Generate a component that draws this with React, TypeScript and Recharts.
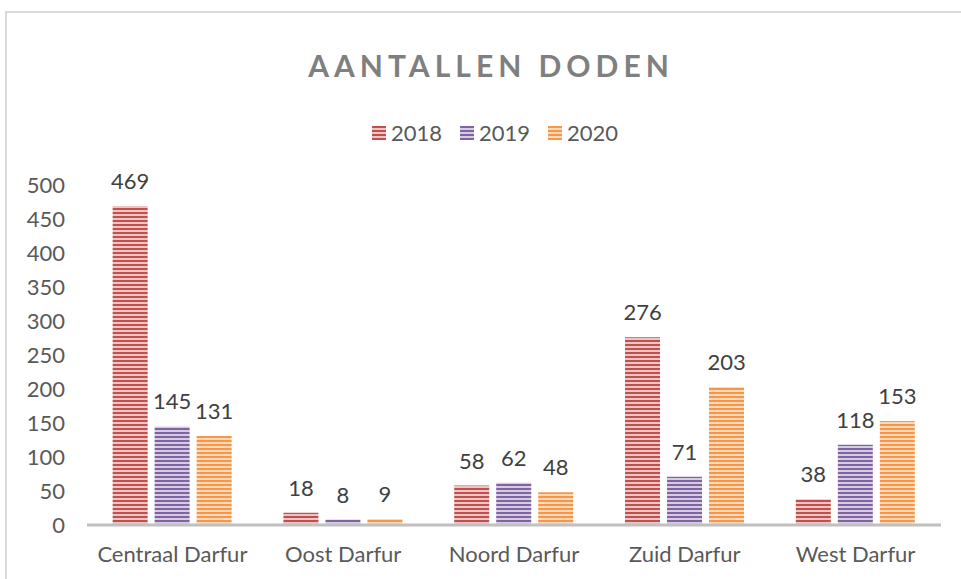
import { BarChart, Bar, XAxis, YAxis, LabelList } from 'recharts';

const regions = ['Centraal Darfur', 'Oost Darfur', 'Noord Darfur', 'Zuid Darfur', 'West Darfur'];
const deaths2018 = [469, 18, 58, 276, 38];
const deaths2019 = [145, 8, 62, 71, 118];
const deaths2020 = [131, 9, 48, 203, 153];
const yTicks = [0, 50, 100, 150, 200, 250, 300, 350, 400, 450, 500];

const series = [
  { key: 'y2018', name: '2018', dark: '#C0504D', light: '#EBC4C3' },
  { key: 'y2019', name: '2019', dark: '#8064A2', light: '#D5CBE2' },
  { key: 'y2020', name: '2020', dark: '#F79646', light: '#FDD9BC' },
];

const data = regions.map((region, i) => ({
  region,
  y2018: deaths2018[i],
  y2019: deaths2019[i],
  y2020: deaths2020[i],
}));

const font = 'Lato, Carlito, Calibri, sans-serif';

export default function App() {
  return (
    <div style={{ position: 'fixed', left: 0, top: 0, width: 961, height: 579, overflow: 'hidden', background: '#fff' }}>
      <div
        style={{
          position: 'absolute',
          left: 5,
          top: 11,
          width: 1000,
          height: 1000,
          border: '2px solid #d9d9d9',
          boxSizing: 'border-box',
        }}
      />
      <div
        style={{
          position: 'absolute',
          left: 0,
          width: 982,
          top: 47,
          textAlign: 'center',
          fontFamily: font,
          fontWeight: 'bold',
          fontSize: 30,
          letterSpacing: 5,
          color: '#7F7F7F',
        }}
      >
        AANTALLEN DODEN
      </div>
      {/* legend */}
      <div
        style={{
          position: 'absolute',
          left: 0,
          width: 990,
          top: 119,
          display: 'flex',
          justifyContent: 'center',
          fontFamily: font,
          fontSize: 22,
          color: '#595959',
        }}
      >
        {series.map((s) => (
          <div key={s.key} style={{ display: 'flex', alignItems: 'center', margin: '0 9px' }}>
            <svg width={14} height={14} style={{ marginRight: 5 }}>
              <rect width={14} height={14} fill={`url(#stripe-${s.key})`} />
            </svg>
            <span>{s.name}</span>
          </div>
        ))}
      </div>
      <div style={{ position: 'absolute', left: 0, top: 0 }}>
        <BarChart
          width={961}
          height={579}
          data={data}
          margin={{ top: 185, right: 20, left: 0, bottom: 24 }}
          barCategoryGap="15%"
          barGap={7}
        >
          <defs>
            {series.map((s) => (
              <pattern key={s.key} id={`stripe-${s.key}`} width={4} height={4} patternUnits="userSpaceOnUse">
                <rect width={4} height={4} fill={s.light} />
                <rect width={4} height={2} fill={s.dark} />
              </pattern>
            ))}
          </defs>
          <XAxis
            dataKey="region"
            axisLine={{ stroke: '#C0C0C0', strokeWidth: 3 }}
            tickLine={false}
            tickSize={0}
            tickMargin={21}
            height={30}
            interval={0}
            tick={{ fill: '#595959', fontSize: 22, fontFamily: font }}
          />
          <YAxis
            domain={[0, 500]}
            ticks={yTicks}
            interval={0}
            width={87}
            axisLine={false}
            tickLine={false}
            tickSize={0}
            tickMargin={22}
            tick={{ fill: '#595959', fontSize: 22, fontFamily: font }}
          />
          {series.map((s) => (
            <Bar key={s.key} dataKey={s.key} name={s.name} fill={`url(#stripe-${s.key})`} isAnimationActive={false}>
              <LabelList
                dataKey={s.key}
                position="top"
                offset={17}
                fill="#404040"
                fontSize={22}
                fontFamily={font}
              />
            </Bar>
          ))}
        </BarChart>
      </div>
    </div>
  );
}
